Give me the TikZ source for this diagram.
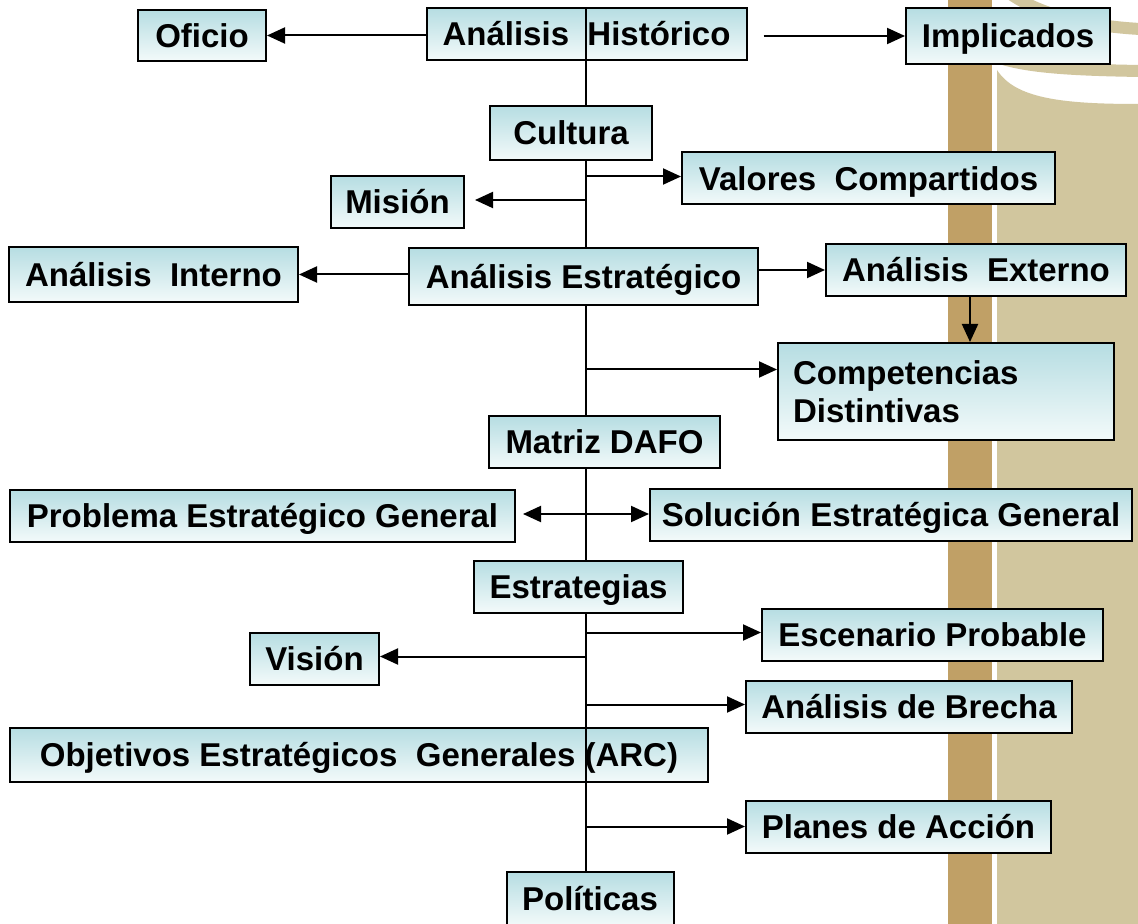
\documentclass[tikz,border=0pt]{standalone}
\usepackage{fontspec}
\setsansfont{Liberation Sans}
\RequirePackage{xcolor}
\tikzset{every picture/.style={/utils/exec={\sffamily\bfseries\fontsize{16.5pt}{19pt}\selectfont}}}
\usetikzlibrary{calc}
\usetikzlibrary{arrows.meta}

\definecolor{boxtop}{RGB}{182,221,226}
\definecolor{boxbot}{RGB}{243,250,250}
\definecolor{stripe}{RGB}{192,160,102}
\definecolor{sand}{RGB}{209,198,158}

\begin{document}
\begin{tikzpicture}[x=0.5pt,y=-0.5pt,
  box/.style={draw=black,line width=1pt,top color=boxtop,bottom color=boxbot,
    inner sep=0pt,minimum height=26pt,text height=14pt,text depth=2.2pt},
  link/.style={line width=1pt},
  arr/.style={line width=1pt,-{Triangle[length=9pt,width=8pt]}}]

  % page and the band on the right
  \clip (0,0) rectangle (1138,924);
  \fill[white] (0,0) rectangle (1138,924);
  \fill[stripe] (948,0) rectangle (992,924);
  \fill[sand] (997,924) -- (997,70) .. controls (1015,98) and (1060,104) .. (1138,104) -- (1138,924) -- cycle;
  \draw[sand,line width=6pt] (1000,58) .. controls (1030,68) and (1080,70) .. (1140,71);
  \draw[sand,line width=6pt] (1012,-5) .. controls (1040,14) and (1085,26) .. (1140,29);

  \coordinate (top) at (586,8);
  \coordinate (bot) at (586,872);
  \draw[link] (top) -- (bot);

  \node[box,minimum width=160pt] (hist) at (586.5,34) {Análisis~ Histórico};
  \node[box,minimum width=64pt,minimum height=25.5pt] (ofi) at (202,35.5) {Oficio};
  \node[box,minimum width=102pt,minimum height=28pt] (impl) at (1008,36) {Implicados};

  \node[box,minimum width=81pt,minimum height=27pt] (cult) at (571,133) {Cultura};
  \node[box,minimum width=186.5pt] (valo) at (868.5,178.5) {Valores~ Compartidos};
  \node[box,minimum width=66.5pt] (mis) at (397.5,202) {Misión};

  \node[box,minimum width=144.5pt,minimum height=27.5pt] (aint) at (153.5,274.5) {Análisis~ Interno};
  \node[box,minimum width=174.5pt,minimum height=28.5pt] (aest) at (583.5,276.5) {Análisis Estratégico};
  \node[box,minimum width=150pt] (aext) at (976,270) {Análisis~ Externo};
  \node[box,minimum width=168pt,minimum height=48.5pt,text height=,text depth=,align=left,text width=153pt] (comp) at (946,391.5) {Competencias\\Distintivas};

  \node[box,minimum width=115.5pt] (dafo) at (604.5,442) {Matriz DAFO};
  \node[box,minimum width=252.5pt] (prob) at (262.5,516) {Problema Estratégico General};
  \node[box,minimum width=241pt] (solu) at (891,514.5) {Solución Estratégica General};

  \node[box,minimum width=104.5pt] (estg) at (578.5,586.5) {Estrategias};
  \node[box,minimum width=170.5pt] (esce) at (932.5,634.5) {Escenario Probable};
  \node[box,minimum width=64.5pt] (visi) at (314.5,658.5) {Visión};
  \node[box,minimum width=163pt] (brec) at (909,706.5) {Análisis de Brecha};

  \node[box,minimum width=349pt,minimum height=27pt] (obj) at (359,755) {Objetivos Estratégicos~ Generales (ARC)};
  \node[box,minimum width=152.5pt] (plan) at (898.5,826.5) {Planes de Acción};
  \node[box,minimum width=83.5pt,minimum height=27pt] (pol) at (590,899) {Políticas};

  % the trunk shows through these two
  \draw[link] (top) -- (top |- hist.south);
  \draw[link] (top |- obj.north) -- (top |- obj.south);

  \draw[arr] (hist.west |- ofi.east) -- (ofi.east);
  \draw[arr,shorten <=8pt] (hist.east |- impl.west) -- (impl.west);
  \draw[arr] ($(top |- valo.west)+(0,-2)$) -- ($(valo.west)+(0,-2)$);
  \draw[arr,shorten >=5pt] ($(top |- mis.east)+(0,-2)$) -- ($(mis.east)+(0,-2)$);
  \draw[arr] (aest.west |- aint.east) -- (aint.east);
  \draw[arr] (aest.east |- aext.west) -- (aext.west);
  \draw[arr] ([xshift=-3pt]aext.south) -- ([xshift=-3pt]aext.south |- comp.north);
  \draw[arr] ($(top |- comp.west)+(0,-22)$) -- ($(comp.west)+(0,-22)$);
  \draw[link,{Triangle[length=9pt,width=8pt]}-{Triangle[length=9pt,width=8pt]},shorten <=3.5pt]
    ($(prob.east)+(0,-2)$) -- ($(solu.west |- prob.east)+(0,-2)$);
  \draw[arr] ($(top |- esce.west)+(0,-2)$) -- ($(esce.west)+(0,-2)$);
  \draw[arr] ($(top |- visi.east)+(0,-2)$) -- ($(visi.east)+(0,-2)$);
  \draw[arr] ($(top |- brec.west)+(0,-2)$) -- ($(brec.west)+(0,-2)$);
  \draw[arr] (top |- plan.west) -- (plan.west);

\end{tikzpicture}
\end{document}
